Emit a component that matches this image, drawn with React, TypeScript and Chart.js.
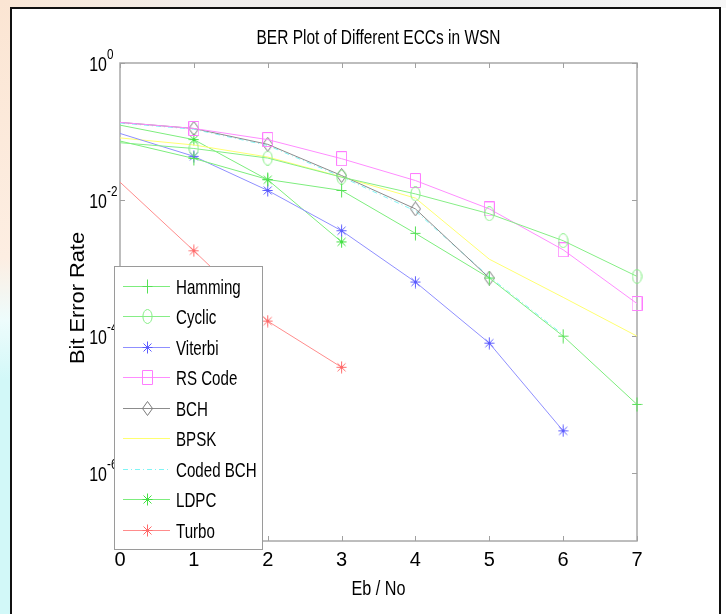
import { useEffect, useRef } from 'react';
import { Chart, registerables } from 'chart.js';

Chart.register(...registerables);

const ebNo = [0, 1, 2, 3, 4, 5, 6, 7];
const xTickLabels = ['0', '1', '2', '3', '4', '5', '6', '7'];
const yTickExponents = [0, -2, -4, -6];

const hamming = [0.072, 0.040, 0.0197, 0.0136, 0.0032, 7.1e-4, 1.0e-4, 1.0e-5];
const cyclic = [0.068, 0.056, 0.0405, 0.0213, 0.0121, 6.2e-3, 2.5e-3, 7.5e-4];
const viterbi = [0.093, 0.043, 0.0136, 3.5e-3, 6.2e-4, 7.9e-5, 4.1e-6];
const rsCode = [0.135, 0.110, 0.0755, 0.0397, 0.019, 7.3e-3, 1.84e-3, 3.0e-4];
const bch = [0.135, 0.110, 0.0644, 0.0225, 7.3e-3, 7.1e-4];
const bpsk = [0.080, 0.063, 0.042, 0.0215, 0.0105, 1.34e-3, 3.7e-4, 1.0e-4];
const codedBch = [0.132, 0.107, 0.062, 0.0215, 6.8e-3, 7.4e-4, 1.05e-4];
const ldpc = [0.123, 0.0755, 0.0195, 2.4e-3];
const turbo = [0.018, 1.78e-3, 1.66e-4, 3.5e-5];

const titleText = 'BER Plot of Different ECCs in WSN';
const xTitle = 'Eb / No';
const yTitle = 'Bit Error Rate';
const FONT = '"Liberation Sans", Arial, sans-serif';

function makeMarker(kind: string, color: string) {
  const w = 11;
  const h = kind === 'star' ? 13 : 15;
  const c = document.createElement('canvas');
  c.width = w;
  c.height = h;
  const g = c.getContext('2d') as CanvasRenderingContext2D;
  g.strokeStyle = color;
  g.lineWidth = 1;
  const cx = w / 2;
  const cy = h / 2;
  g.beginPath();
  if (kind === 'plus') {
    g.moveTo(cx, 0.5); g.lineTo(cx, h - 0.5);
    g.moveTo(0.5, cy); g.lineTo(w - 0.5, cy);
  } else if (kind === 'star') {
    g.moveTo(cx, 0.5); g.lineTo(cx, h - 0.5);
    g.moveTo(0.5, cy); g.lineTo(w - 0.5, cy);
    g.moveTo(1.5, 2.5); g.lineTo(w - 1.5, h - 2.5);
    g.moveTo(w - 1.5, 2.5); g.lineTo(1.5, h - 2.5);
  } else if (kind === 'ellipse') {
    g.ellipse(cx, cy, 4.6, 7, 0, 0, Math.PI * 2);
  } else if (kind === 'rect') {
    g.rect(0.5, 0.5, w - 1, h - 1);
  } else if (kind === 'diamond') {
    g.moveTo(cx, 0.5); g.lineTo(w - 0.5, cy); g.lineTo(cx, h - 0.5); g.lineTo(0.5, cy); g.closePath();
  }
  g.stroke();
  return c;
}

function drawText(ctx: CanvasRenderingContext2D, text: string, x: number, y: number, size: number, align: CanvasTextAlign, sx: number, rot = 0) {
  ctx.save();
  ctx.font = `${size}px ${FONT}`;
  ctx.fillStyle = '#000';
  ctx.textAlign = align;
  ctx.textBaseline = 'alphabetic';
  ctx.translate(x, y);
  if (rot) ctx.rotate(rot);
  ctx.scale(sx, 1);
  ctx.fillText(text, 0, 0);
  ctx.restore();
}

function fitScale(ctx: CanvasRenderingContext2D, text: string, size: number, width: number) {
  ctx.save();
  ctx.font = `${size}px ${FONT}`;
  const w = ctx.measureText(text).width;
  ctx.restore();
  return width / w;
}

export default function App() {
  const ref = useRef<HTMLCanvasElement | null>(null);

  useEffect(() => {
    const canvas = ref.current;
    if (!canvas) return;

    const mk = (label: string, arr: number[], color: string, marker: string | null, markerColor: string, dash: number[] = []) => ({
      label,
      data: arr.map((v, i) => ({ x: ebNo[i], y: v })),
      borderColor: color,
      backgroundColor: color,
      borderWidth: 1,
      borderDash: dash,
      pointStyle: marker ? makeMarker(marker, markerColor) : 'circle',
      pointRadius: marker ? (c: any) => (c.dataIndex === 0 ? 0 : 5) : 0,
      pointHoverRadius: 0,
      legendMarker: !!marker,
      fill: false,
      tension: 0,
      clip: false,
    });

    const datasets: any[] = [
      mk('Hamming', hamming, '#7ded7d', 'plus', '#55e055'),
      mk('Cyclic', cyclic, '#86ee86', 'ellipse', '#86ee86'),
      mk('Viterbi', viterbi, '#8f8fff', 'star', '#5c5cff'),
      mk('RS Code', rsCode, '#ff8cff', 'rect', '#ff7cff'),
      mk('BCH', bch, '#8c8c8c', 'diamond', '#7a7a7a'),
      mk('BPSK', bpsk, '#ffff70', null, '#ffff70'),
      mk('Coded BCH', codedBch, '#7ff5f5', null, '#7ff5f5', [5, 3, 1, 3]),
      mk('LDPC', ldpc, '#7ded7d', 'star', '#44e044'),
      mk('Turbo', turbo, '#ff8c8c', 'star', '#ff6a6a'),
    ];

    const decor = {
      id: 'decor',
      beforeDatasetsDraw(chart: any) {
        const { ctx, chartArea: a, scales } = chart;
        const xs = scales.x;
        const ys = scales.y;
        ctx.save();
        ctx.strokeStyle = '#a8a8a8';
        ctx.lineWidth = 1.5;
        ctx.strokeRect(a.left, a.top, a.right - a.left, a.bottom - a.top);
        ctx.lineWidth = 1;
        ctx.strokeStyle = '#a0a0a0';
        ctx.beginPath();
        ebNo.forEach((v) => {
          const px = Math.round(xs.getPixelForValue(v)) + 0.5;
          ctx.moveTo(px, a.bottom); ctx.lineTo(px, a.bottom - 5);
          ctx.moveTo(px, a.top); ctx.lineTo(px, a.top + 5);
        });
        yTickExponents.forEach((e) => {
          const py = Math.round(ys.getPixelForValue(Math.pow(10, e))) + 0.5;
          ctx.moveTo(a.left, py); ctx.lineTo(a.left + 5, py);
          ctx.moveTo(a.right, py); ctx.lineTo(a.right - 5, py);
        });
        ctx.stroke();
        ctx.restore();
      },
      afterDraw(chart: any) {
        const { ctx, chartArea: a, scales } = chart;
        const xs = scales.x;
        const ys = scales.y;
        ebNo.forEach((v, i) => {
          drawText(ctx, xTickLabels[i], xs.getPixelForValue(v), a.bottom + 25, 20, 'center', 1);
        });
        yTickExponents.forEach((e) => {
          const py = ys.getPixelForValue(Math.pow(10, e));
          drawText(ctx, '10', a.left - 13, py + 8, 21, 'right', 0.76);
          drawText(ctx, e === 0 ? '0' : '-' + Math.abs(e), a.left - 13, py - 4, 15, 'left', 0.78);
        });
        const cx = (a.left + a.right) / 2;
        drawText(ctx, titleText, cx, 44, 20, 'center', fitScale(ctx, titleText, 20, 244));
        drawText(ctx, xTitle, cx, 595, 20, 'center', fitScale(ctx, xTitle, 20, 54));
        drawText(ctx, yTitle, 84, 298, 21, 'center', fitScale(ctx, yTitle, 21, 132), -Math.PI / 2);

        const L = 114, T = 266, R = 262, B = 549;
        ctx.save();
        ctx.fillStyle = '#fff';
        ctx.fillRect(L, T, R - L, B - T);
        ctx.strokeStyle = '#9a9a9a';
        ctx.lineWidth = 1;
        ctx.strokeRect(L + 0.5, T + 0.5, R - L, B - T);
        ctx.restore();
        const legSx = 0.72;
        chart.data.datasets.forEach((ds: any, i: number) => {
          const ry = Math.round(285.5 + i * 30.5) + 0.5;
          ctx.save();
          ctx.strokeStyle = ds.borderColor;
          ctx.lineWidth = 1;
          ctx.setLineDash(ds.borderDash || []);
          ctx.beginPath();
          ctx.moveTo(123, ry);
          ctx.lineTo(170, ry);
          ctx.stroke();
          ctx.restore();
          if (ds.legendMarker && ds.pointStyle instanceof HTMLCanvasElement) {
            const im = ds.pointStyle as HTMLCanvasElement;
            ctx.drawImage(im, Math.round(147.5 - im.width / 2), Math.round(ry - im.height / 2));
          }
          drawText(ctx, ds.label, 176, ry + 7.5, 21, 'left', legSx);
        });
      },
    };

    const chart = new Chart(canvas, {
      type: 'line',
      data: { datasets },
      options: {
        responsive: false,
        animation: false,
        events: [],
        layout: { padding: { left: 120, top: 63, right: 89, bottom: 73 } },
        scales: {
          x: { type: 'linear', min: 0, max: 7, display: false },
          y: { type: 'logarithmic', min: 1e-7, max: 1, display: false },
        },
        plugins: {
          legend: { display: false },
          tooltip: { enabled: false },
          title: { display: false },
        },
      },
      plugins: [decor],
    } as any);

    return () => chart.destroy();
  }, []);

  return (
    <div style={{ position: 'absolute', left: 0, top: 0, width: 726, height: 614, overflow: 'hidden', background: '#fff' }}>
      <div style={{ position: 'absolute', left: 0, top: 0, width: 726, height: 8, background: 'linear-gradient(to right, #fbe7d6 0%, #f1eeec 30%, #ececec 60%, #f6f6f6 100%)' }} />
      <div style={{ position: 'absolute', left: 0, top: 0, width: 10, height: 614, background: 'linear-gradient(to bottom, #fbe5d3 0%, #fdeee2 42%, #eefcfc 52%, #d2f8f8 62%, #d2f8f8 100%)' }} />
      <div style={{ position: 'absolute', left: 10, top: 7, width: 711, height: 640, boxSizing: 'border-box', border: '2px solid #111', background: '#fff' }} />
      <canvas ref={ref} width={726} height={614} style={{ position: 'absolute', left: 0, top: 0, width: 726, height: 614 }} />
    </div>
  );
}
